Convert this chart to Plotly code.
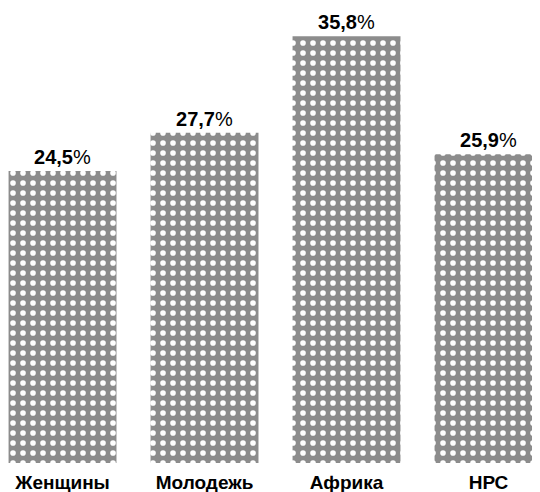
import plotly.graph_objects as go

categories = ["Женщины", "Молодежь", "Африка", "НРС"]
values = [24.5, 27.7, 35.8, 25.9]
value_labels = ["24,5", "27,7", "35,8", "25,9"]

texts = [f"<b>{v}</b>%" for v in value_labels]

fig = go.Figure(go.Bar(
    x=categories,
    y=values,
    width=0.76,
    text=texts,
    textposition="outside",
    cliponaxis=False,
    textfont=dict(family="Liberation Sans Narrow, Arial Narrow, Liberation Sans, sans-serif", size=20, color="#000000"),
    marker=dict(
        color="#8c8c8c",
        line=dict(width=0),
        pattern=dict(shape=".", fgcolor="#ffffff", fgopacity=1, size=10, solidity=0.25),
    ),
))

fig.update_layout(
    width=540, height=492,
    margin=dict(l=0, r=0, t=0, b=37),
    plot_bgcolor="#ffffff",
    paper_bgcolor="#ffffff",
    showlegend=False,
    xaxis=dict(
        range=[-0.384, 3.419],
        autorange=False,
        showgrid=False, zeroline=False, showline=False, ticks="",
        ticklabelstandoff=6,
        tickfont=dict(family="Liberation Sans, Arial, sans-serif", size=19, color="#000000"),
        tickvals=categories,
        ticktext=[f"<b>{c}</b>" for c in categories],
    ),
    yaxis=dict(
        range=[0, 38.17],
        autorange=False,
        visible=False,
    ),
)

fig.write_html("out.html")
